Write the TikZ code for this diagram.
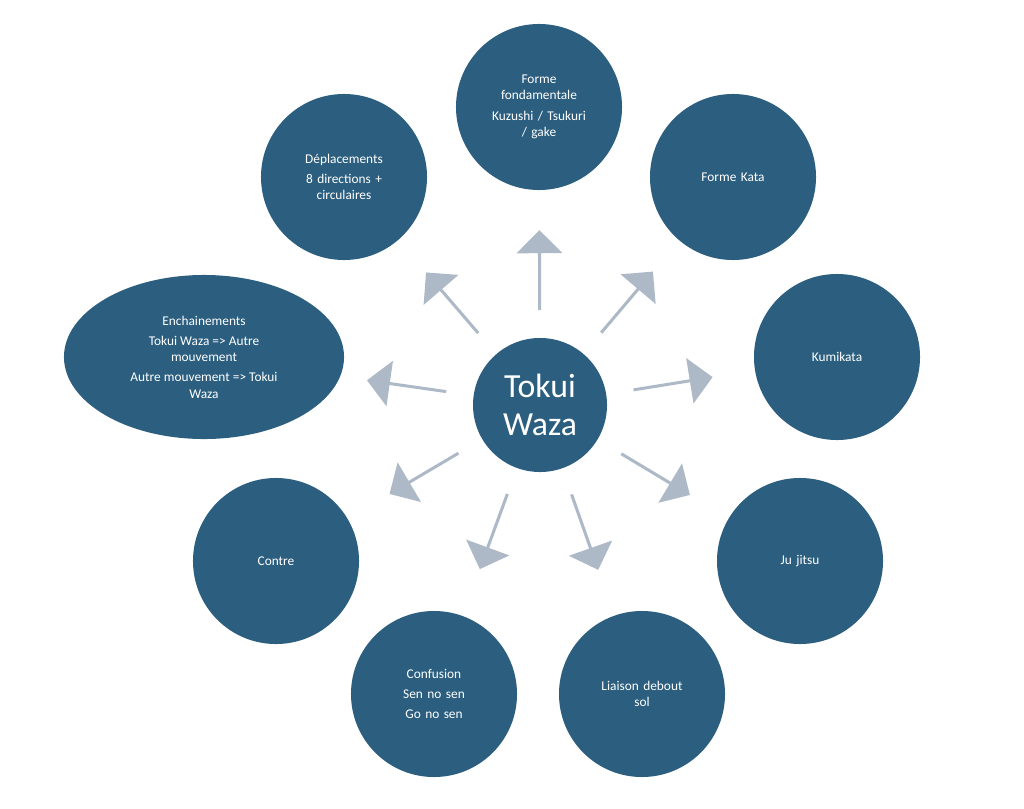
\documentclass[tikz,border=0pt]{standalone}
\usepackage{fontspec}
\setmainfont{Carlito}
\usetikzlibrary{shapes.geometric, shapes.arrows, positioning, calc}
\definecolor{topicblue}{RGB}{44,95,127}
\definecolor{arrowgray}{RGB}{173,185,199}
\tikzstyle{topic} = [circle, minimum size=4.15cm, inner sep=2pt, text width=3.4cm, align=center, fill=topicblue, text=white, font=\fontsize{9.5}{11.5}\selectfont]
\tikzstyle{core} = [circle, minimum size=3.35cm, fill=topicblue, text=white, align=center, font=\fontsize{24}{27}\selectfont]
\tikzstyle{blockarrow} = [single arrow, fill=arrowgray, minimum height=2cm, minimum width=1.15cm, single arrow head extend=0.1cm, inner sep=0pt]

\begin{document}
\begin{tikzpicture}[x=0.025cm, y=-0.025cm]
    \useasboundingbox (0,0) rectangle (1024,808);
    \node (core) [core] at (540,405) {Tokui\\Waza};

    \node (fondamentale) [topic] at (539,107) {Forme\\fondamentale\\[3pt]Kuzushi / Tsukuri\\/ gake};
    \node (kata) [topic] at (733,177) {Forme Kata};
    \node (kumikata) [topic] at (837,357) {Kumikata};
    \node (jujitsu) [topic] at (800,561) {Ju jitsu};
    \node (liaison) [topic] at (642,694) {Liaison debout\\sol};
    \node (confusion) [topic] at (434,694) {Confusion\\[3pt]Sen no sen\\[3pt]Go no sen};
    \node (contre) [topic] at (276,561) {Contre};
    \node (enchainements) [ellipse, fill=topicblue, text=white, minimum width=7cm, minimum height=4.1cm, align=center, font=\fontsize{9.5}{11.5}\selectfont] at (204,357) {Enchainements\\[3pt]Tokui Waza => Autre\\mouvement\\[3pt]Autre mouvement => Tokui\\Waza};
    \node (deplacements) [topic] at (344,177) {Déplacements\\[3pt]8 directions +\\circulaires};

    % arrows pointing out of the centre
    \foreach \target in {fondamentale, kata, kumikata, jujitsu, liaison, confusion, contre, enchainements, deplacements}
        \path let \p1 = ($(\target.center)-(core.center)$), \n1 = {atan2(\y1,\x1)} in
            node [blockarrow, rotate=\n1] at ($(core.center)!3.35cm!(\target.center)$) {};
\end{tikzpicture}
\end{document}
